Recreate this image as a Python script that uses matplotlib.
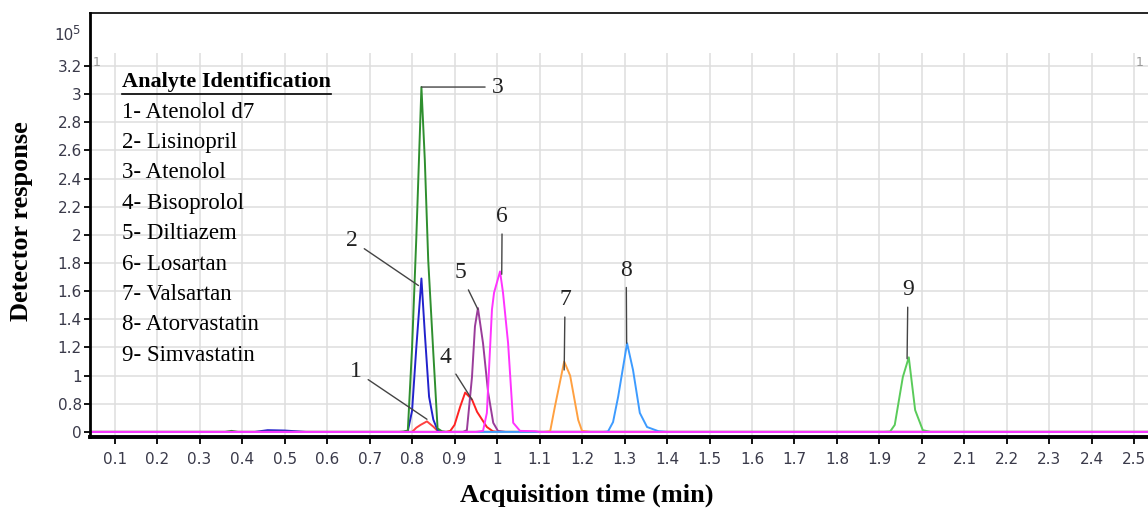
import matplotlib
matplotlib.use('Agg')
import matplotlib.pyplot as plt
from matplotlib.lines import Line2D
import numpy as np

# Chromatogram traces (time in min, response in 10^5 counts)
t_atenolol_d7 = [0.04, 0.80, 0.81, 0.82, 0.835, 0.85, 0.86, 0.87, 2.55]
r_atenolol_d7 = [0, 0, 0.12, 0.2, 0.3, 0.15, 0.03, 0, 0]
t_lisinopril = [0.04, 0.43, 0.46, 0.50, 0.55, 0.78, 0.79, 0.80, 0.81, 0.822, 0.83, 0.84, 0.85, 0.86, 0.87, 2.55]
r_lisinopril = [0, 0, 0.05, 0.04, 0, 0, 0.03, 0.6, 1.2, 1.69, 1.3, 0.85, 0.35, 0.05, 0, 0]
t_atenolol = [0.04, 0.36, 0.375, 0.39, 0.77, 0.78, 0.79, 0.80, 0.81, 0.822, 0.83, 0.838, 0.85, 0.86, 0.87, 0.88, 2.55]
r_atenolol = [0, 0, 0.03, 0, 0, 0.01, 0.04, 1.2, 1.98, 3.05, 2.53, 1.82, 1.16, 0.1, 0.02, 0, 0]
t_bisoprolol = [0.04, 0.88, 0.89, 0.90, 0.913, 0.925, 0.941, 0.953, 0.976, 0.99, 1.0, 2.55]
r_bisoprolol = [0, 0, 0.03, 0.2, 0.71, 0.88, 0.83, 0.57, 0.14, 0.02, 0, 0]
t_diltiazem = [0.04, 0.92, 0.929, 0.941, 0.948, 0.955, 0.967, 0.979, 0.991, 1.002, 1.02, 2.55]
r_diltiazem = [0, 0, 0.05, 0.99, 1.35, 1.48, 1.23, 0.88, 0.26, 0.03, 0, 0]
t_losartan = [0.04, 0.95, 0.967, 0.976, 0.988, 0.993, 1.007, 1.014, 1.026, 1.038, 1.054, 1.09, 1.10, 2.55]
r_losartan = [0, 0, 0.03, 0.54, 1.47, 1.59, 1.74, 1.59, 1.23, 0.26, 0.03, 0.02, 0, 0]
t_valsartan = [0.04, 1.11, 1.125, 1.136, 1.158, 1.172, 1.191, 1.20, 1.22, 2.55]
r_valsartan = [0, 0, 0.02, 0.71, 1.10, 1.0, 0.34, 0.03, 0, 0]
t_atorvastatin = [0.04, 1.25, 1.261, 1.273, 1.285, 1.306, 1.32, 1.336, 1.353, 1.38, 1.40, 2.55]
r_atorvastatin = [0, 0, 0.01, 0.28, 0.85, 1.23, 1.04, 0.54, 0.14, 0.02, 0, 0]
t_simvastatin = [0.04, 1.91, 1.925, 1.936, 1.955, 1.969, 1.984, 2.002, 2.02, 2.55]
r_simvastatin = [0, 0, 0.01, 0.2, 0.99, 1.13, 0.62, 0.05, 0, 0]

analytes = ['Atenolol d7', 'Lisinopril', 'Atenolol', 'Bisoprolol', 'Diltiazem',
            'Losartan', 'Valsartan', 'Atorvastatin', 'Simvastatin']
colors = ['#ff4040', '#2222cc', '#2f8f2f', '#ff2222', '#9a3c9a',
          '#ff33ff', '#ffa040', '#3d9bff', '#5acb5a']
traces = [(t_atenolol_d7, r_atenolol_d7), (t_lisinopril, r_lisinopril),
          (t_atenolol, r_atenolol), (t_bisoprolol, r_bisoprolol),
          (t_diltiazem, r_diltiazem), (t_simvastatin, r_simvastatin),
          (t_valsartan, r_valsartan), (t_atorvastatin, r_atorvastatin),
          (t_losartan, r_losartan)]
trace_colors = [colors[0], colors[1], colors[2], colors[3], colors[4],
                colors[8], colors[6], colors[7], colors[5]]

# peak labels: label, peak point, text position
peak_labels = ['1', '2', '3', '4', '5', '6', '7', '8', '9']
peak_xy = [(0.835, 0.36), (0.815, 1.64), (0.822, 3.05), (0.941, 0.83), (0.955, 1.47),
           (1.011, 1.72), (1.158, 1.04), (1.305, 1.23), (1.965, 1.12)]
label_xy = [(0.668, 1.03), (0.659, 1.96), (1.002, 3.05), (0.878, 1.13), (0.913, 1.73),
            (1.012, 2.13), (1.16, 1.54), (1.304, 1.75), (1.967, 1.61)]

x_ticks = [round(0.1 * i, 1) for i in range(1, 26)]
y_ticks = [0, 0.8, 1.0, 1.2, 1.4, 1.6, 1.8, 2.0, 2.2, 2.4, 2.6, 2.8, 3.0, 3.2]


# the axis is squeezed between 0 and 0.8 in the original software export
def fwd(v):
    v = np.asarray(v, float)
    return np.where(v <= 0.8, v / 0.8, 1 + (v - 0.8) / 0.2)


def inv(f):
    f = np.asarray(f, float)
    return np.where(f <= 1, f * 0.8, 0.8 + (f - 1) * 0.2)


serif = 'Liberation Serif'
tickfont = ['Liberation Sans Narrow', 'DejaVu Sans']

fig = plt.figure(figsize=(11.48, 5.08), dpi=100)
ax = fig.add_axes([90 / 1148, (508 - 437) / 508, (1148 - 90) / 1148, (437 - 13) / 508])
ax.set_yscale('function', functions=(fwd, inv))
ax.set_xlim(0.042, 2.532)
ax.set_ylim(-0.144, 3.576)

# grid
grid_top = 3.29
ax.vlines(x_ticks, -0.144, grid_top, colors='#dedede', lw=1.1, zorder=0)
ax.hlines(y_ticks[1:], 0.042, 2.532, colors='#dedede', lw=1.1, zorder=0)

for (t, r), c in zip(traces, trace_colors):
    ax.plot(t, r, color=c, lw=1.4, zorder=2)

for lab, xy, txy in zip(peak_labels, peak_xy, label_xy):
    ax.annotate(lab, xy=xy, xytext=txy, ha='center', va='center',
                fontsize=17, family=serif, color='#222222', zorder=3,
                arrowprops=dict(arrowstyle='-', color='#444444', lw=1.0,
                                shrinkA=3, shrinkB=0))

ax.set_xticks(x_ticks)
ax.set_xticklabels(['%g' % v for v in x_ticks], family=tickfont, fontsize=11, color='#3a3a4a')
ax.set_yticks(y_ticks)
ax.set_yticklabels(['%g' % v for v in y_ticks], family=tickfont, fontsize=11, color='#3a3a4a')
ax.minorticks_off()
ax.tick_params(axis='x', direction='out', length=5, width=1.3, pad=6)
ax.tick_params(axis='y', direction='out', length=4, width=1.3, pad=2)

ax.spines['right'].set_visible(False)
ax.spines['top'].set_linewidth(1.2)
ax.spines['left'].set_linewidth(2.0)
ax.spines['bottom'].set_linewidth(2.8)

# scan markers and exponent
fig.text(97 / 1148, 1 - 62 / 508, '1', fontsize=9, color='#999999', ha='center', va='center')
fig.text(1140 / 1148, 1 - 62 / 508, '1', fontsize=9, color='#999999', ha='center', va='center')
fig.text(64 / 1148, 1 - 36 / 508, '10', fontsize=11, color='#3a3a4a', ha='center', va='center',
         family=tickfont)
fig.text(76 / 1148, 1 - 31 / 508, '5', fontsize=8.5, color='#3a3a4a', ha='center', va='center',
         family=tickfont)

# analyte identification box
title = fig.text(122 / 1148, 1 - 82 / 508, 'Analyte Identification', fontsize=16,
                 family=serif, weight='bold', ha='left', va='center')
for i, name in enumerate(analytes):
    fig.text(122 / 1148, 1 - (112 + 30.4 * i) / 508, '%d- %s' % (i + 1, name),
             fontsize=16.5, family=serif, ha='left', va='center')

fig.text(22 / 1148, 1 - 221 / 508, 'Detector response', rotation=90, fontsize=19,
         family=serif, weight='bold', ha='center', va='center')
fig.text(587 / 1148, 1 - 495 / 508, 'Acquisition time (min)', fontsize=19,
         family=serif, weight='bold', ha='center', va='center')

fig.canvas.draw()
bb = title.get_window_extent()
uy = (508 - 94) / 508
fig.add_artist(Line2D([bb.x0 / 1148, bb.x1 / 1148], [uy, uy], transform=fig.transFigure,
                      color='black', lw=1.2))

fig.savefig('out.png', dpi=100)
